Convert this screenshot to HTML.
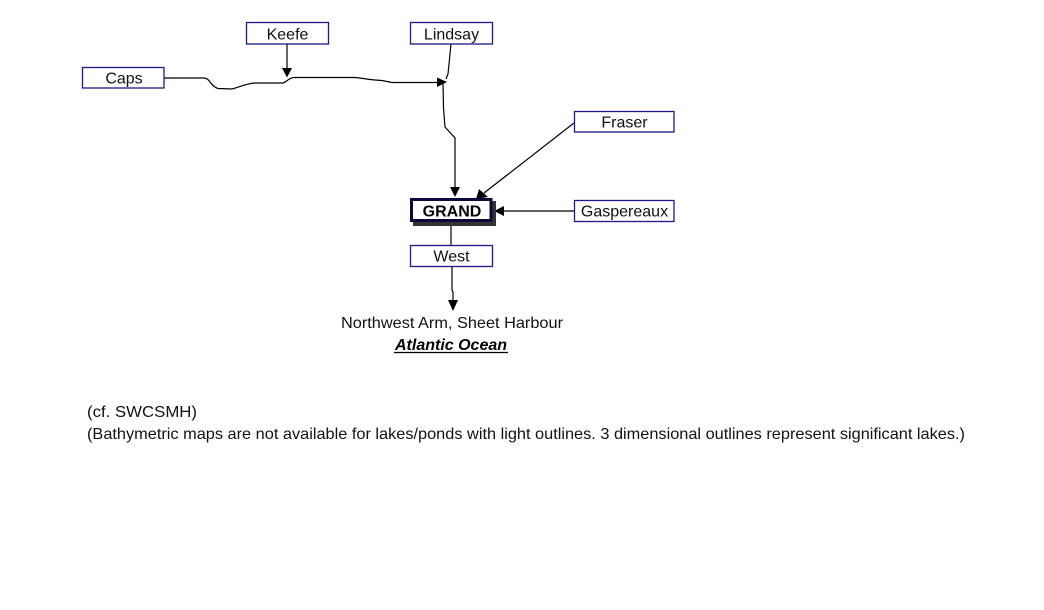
<!DOCTYPE html>
<html>
<head>
<meta charset="utf-8">
<style>
html,body{margin:0;padding:0;background:#fff;}
body{width:1044px;height:610px;overflow:hidden;}
svg{display:block;}
text{font-family:"Liberation Sans",Arial,sans-serif;font-size:16px;fill:#111;}
</style>
</head>
<body>
<svg width="1044" height="610" viewBox="0 0 1044 610" xmlns="http://www.w3.org/2000/svg">
  <!-- connectors -->
  <g fill="none" stroke="#000" stroke-width="1.2">
    <path d="M164.5,78 L204,78 C210,78 210,86 218,88.5 L232,89 C240,87 245,84 254,83 L283,83 C287,82 288,78 294,77.5 L355,77.5 C362,78 370,80 382,80.5 L392,82.5 L437,82.5"/>
    <path d="M287,44 L287,68"/>
    <path d="M451,44 L448,74 L446,79"/>
    <path d="M443,82 L443.5,108 L445,127 L455,138 L455,188"/>
    <path d="M574,123 L484,193"/>
    <path d="M574,211 L503,211"/>
    <path d="M451,222 L451,245"/>
    <path d="M452,267 L452,290 L453,292 L453,301"/>
  </g>
  <!-- arrowheads -->
  <g fill="#000">
    <polygon points="282,68 292,68 287,77.5"/>
    <polygon points="437,77.5 437,87 447,82"/>
    <polygon points="450,187 460,187 455,197"/>
    <polygon points="479,189 488,197 476,199"/>
    <polygon points="504,206 504,216 494,211"/>
    <polygon points="448,300 458,300 453,311"/>
  </g>
  <!-- boxes -->
  <g fill="#fff" stroke="#1a1a8c" stroke-width="1.3">
    <rect x="82.5" y="67.5" width="81.5" height="20.5"/>
    <rect x="246.5" y="22.5" width="82" height="21.5"/>
    <rect x="410.5" y="22.5" width="82" height="21.5"/>
    <rect x="574.5" y="111.5" width="99.5" height="20.5"/>
    <rect x="574.5" y="200.5" width="99.5" height="21"/>
    <rect x="410.5" y="245.5" width="82" height="21"/>
  </g>
  <!-- GRAND box with shadow -->
  <rect x="413" y="201" width="83" height="25" fill="#333"/>
  <rect x="411.5" y="199.5" width="79.5" height="21" fill="#fff" stroke="#0a0a3a" stroke-width="3"/>
  <!-- labels -->
  <g text-anchor="middle">
    <text x="124" y="83.5">Caps</text>
    <text x="287.5" y="39.5">Keefe</text>
    <text x="451.5" y="39.5">Lindsay</text>
    <text x="624.5" y="127.5">Fraser</text>
    <text x="624.5" y="216.5">Gaspereaux</text>
    <text x="452" y="216.5" style="font-weight:bold;fill:#000">GRAND</text>
    <text x="451.5" y="261.5">West</text>
  </g>
  <text x="341" y="328" textLength="222" lengthAdjust="spacingAndGlyphs">Northwest Arm, Sheet Harbour</text>
  <text x="451" y="350" text-anchor="middle" style="font-weight:bold;font-style:italic;fill:#000">Atlantic Ocean</text>
  <line x1="394" y1="352.5" x2="508" y2="352.5" stroke="#000" stroke-width="1.3"/>
  <text x="87" y="417" textLength="110" lengthAdjust="spacingAndGlyphs">(cf. SWCSMH)</text>
  <text x="87" y="439" textLength="878" lengthAdjust="spacingAndGlyphs">(Bathymetric maps are not available for lakes/ponds with light outlines. 3 dimensional outlines represent significant lakes.)</text>
</svg>
</body>
</html>
